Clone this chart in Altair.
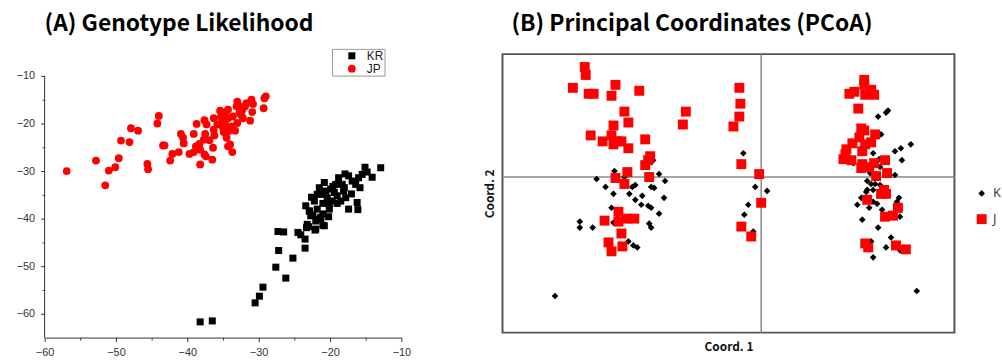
import altair as alt
import pandas as pd

# ---------------- (A) Genotype likelihood ----------------
kr_x = [-38.2, -36.5, -30.5, -29.9, -29.4, -27.6, -27.2, -27.3, -26.5, -26.2, -25.2, -24.5,
        -24.1, -23.5, -23.5, -23.3, -23.2, -22.1, -21.5, -21.0, -21.3, -22.4, -22.9, -16.1,
        -15.1, -12.9, -14.1, -15.5, -16.0, -17.4, -16.9, -16.4, -16.2, -17.4, -18.3, -18.1,
        -18.8, -17.8, -18.5, -19.2, -19.4, -19.0, -19.7, -20.1, -20.4, -20.8, -21.5, -21.1,
        -21.8, -22.2, -23.4, -22.9, -22.7, -22.0, -21.3, -20.8, -22.0, -23.0, -20.1, -21.8,
        -19.9, -21.0, -20.6, -19.6, -18.0, -17.0, -15.8, -14.8, -17.9, -22.6, -21.0, -19.0,
        -20.2]
kr_y = [-61.7, -61.5, -57.7, -56.3, -54.4, -50.2, -46.7, -42.7, -42.8, -52.5, -48.3, -42.9,
        -43.4, -44.3, -46.2, -41.9, -41.2, -42.4, -40.1, -41.4, -39.7, -39.2, -38.4, -38.1,
        -29.2, -29.3, -31.3, -30.7, -31.4, -31.0, -32.1, -32.8, -36.6, -38.0, -32.8, -34.2,
        -31.4, -35.6, -36.3, -32.8, -34.5, -35.2, -36.3, -37.0, -35.6, -32.4, -33.5, -34.9,
        -34.9, -36.3, -37.3, -38.4, -39.4, -40.5, -40.1, -41.5, -42.2, -41.7, -38.0, -38.0,
        -33.8, -36.8, -34.2, -33.2, -33.5, -34.8, -33.5, -30.2, -30.6, -35.5, -39.0, -36.8,
        -39.6]
jp_x = [-56.9, -52.8, -51.5, -51.0, -50.1, -49.6, -49.3, -48.1, -47.9, -46.9, -45.6, -45.5,
        -44.2, -44.0, -43.4, -43.2, -42.4, -42.1, -41.2, -40.9, -40.6, -40.5, -39.7, -39.1,
        -39.1, -38.7, -38.8, -38.3, -38.2, -37.7, -37.6, -37.4, -37.6, -37.3, -37.5, -36.9,
        -36.5, -36.3, -36.3, -36.2, -35.2, -35.0, -35.0, -34.9, -34.7, -34.3, -34.3, -34.2,
        -34.3, -34.0, -33.7, -33.6, -33.3, -33.1, -33.0, -32.7, -32.6, -32.3, -32.2, -31.9,
        -31.0, -30.8, -30.9, -31.2, -29.3, -29.2, -29.0, -34.6, -35.4, -35.8, -34.5, -38.2,
        -36.4, -33.0, -31.7, -32.4, -33.8, -35.3]
jp_y = [-30.0, -27.8, -33.0, -29.9, -29.2, -27.3, -23.6, -23.9, -21.0, -21.5, -28.5, -29.6,
        -20.0, -18.4, -24.6, -24.6, -27.8, -26.4, -26.0, -22.2, -23.0, -24.2, -26.4, -26.0,
        -22.2, -20.1, -24.8, -24.3, -28.6, -23.4, -26.5, -26.9, -19.3, -20.2, -22.2, -23.5,
        -27.6, -21.3, -18.9, -22.5, -18.2, -19.5, -20.9, -21.8, -20.2, -18.9, -17.1, -21.6,
        -24.8, -24.4, -26.0, -18.5, -21.5, -16.4, -19.9, -17.8, -16.4, -17.1, -18.9, -16.4,
        -15.0, -15.9, -17.6, -19.4, -16.8, -14.7, -14.3, -17.6, -17.3, -20.2, -23.0, -25.5,
        -25.1, -15.4, -15.7, -18.3, -20.6, -18.7]
left_major = [-60, -50, -40, -30, -20, -10]
left_minor_x = [-55, -45, -35, -25, -15]
left_minor_y = [-55, -45, -35, -25, -15]
left_x_range = [-60, -10]
left_y_range = [-65, -10]

# ---------------- (B) PCoA ----------------
k_x = [-0.018, -0.109, -0.148, -0.138, -0.166, -0.103, -0.097, -0.157, -0.130, -0.127, -0.111,
       -0.108, -0.149, -0.133, -0.120, -0.098, -0.127, -0.121, -0.114, -0.111, -0.103, -0.151,
       -0.183, -0.183, -0.170, -0.149, -0.145, -0.113, -0.111, -0.134, -0.129, -0.125, -0.208,
       -0.006, 0.006, -0.013, -0.017, -0.008,
       0.128, 0.126, 0.118, 0.121, 0.151, 0.141, 0.135, 0.113, 0.142, 0.119, 0.093, 0.120,
       0.110, 0.135, 0.107, 0.111, 0.115, 0.120, 0.107, 0.106, 0.113, 0.139, 0.101,
       0.097, 0.113, 0.117, 0.109, 0.122, 0.137, 0.140, 0.140, 0.127, 0.102, 0.118, 0.131,
       0.111, 0.126, 0.140, 0.113, 0.157]
k_y = [0.024, 0.017, 0.006, 0.000, -0.002, 0.003, -0.004, -0.010, -0.010, -0.008, -0.010,
       -0.011, -0.017, -0.017, -0.019, -0.021, -0.023, -0.028, -0.029, -0.031, -0.037, -0.031,
       -0.045, -0.051, -0.051, -0.046, -0.042, -0.047, -0.051, -0.065, -0.069, -0.071, -0.120,
       -0.010, -0.014, -0.028, -0.038, -0.055,
       0.067, 0.065, 0.061, 0.043, 0.033, 0.029, 0.026, 0.024, 0.017, 0.018, 0.014, 0.010,
       0.004, 0.002, -0.004, -0.007, -0.007, -0.008, -0.013, -0.015, -0.013, -0.021, -0.021,
       -0.028, -0.025, -0.027, -0.031, -0.033, -0.025, -0.033, -0.040, -0.040, -0.043, -0.051,
       -0.061, -0.065, -0.071, -0.074, -0.081, -0.115]
j_x = [-0.178, -0.177, -0.190, -0.174, -0.169, -0.147, -0.151, -0.123, -0.138, -0.076, -0.079,
       -0.149, -0.134, -0.172, -0.151, -0.160, -0.149, -0.145, -0.141, -0.134, -0.117, -0.112,
       -0.114, -0.117, -0.135, -0.147, -0.138, -0.113, -0.022, -0.021, -0.022, -0.028, -0.020,
       -0.002, 0.000, -0.144, -0.158, -0.144, -0.136, -0.128, -0.141, -0.154, -0.140, -0.151,
       -0.020, -0.010,
       0.104, 0.104, 0.111, 0.105, 0.114, 0.094, 0.089, 0.098, 0.101, 0.104, 0.115, 0.099,
       0.111, 0.092, 0.105, 0.086, 0.102, 0.085, 0.083, 0.091, 0.102, 0.114, 0.125, 0.101,
       0.109, 0.116, 0.127, 0.124, 0.121, 0.126, 0.107, 0.138, 0.125, 0.133, 0.105, 0.108,
       0.136, 0.146]
j_y = [0.111, 0.103, 0.090, 0.084, 0.084, 0.093, 0.082, 0.087, 0.066, 0.066, 0.053,
       0.052, 0.055, 0.042, 0.042, 0.036, 0.033, 0.036, 0.036, 0.029, 0.038, 0.021,
       0.017, 0.012, 0.005, -0.001, -0.007, 0.000, 0.090, 0.074, 0.061, 0.051, 0.013,
       0.003, -0.026, -0.035, -0.044, -0.045, -0.042, -0.042, -0.057, -0.066, -0.070, -0.075,
       -0.050, -0.060,
       0.098, 0.093, 0.088, 0.083, 0.083, 0.086, 0.084, 0.069, 0.049, 0.047, 0.043, 0.040,
       0.035, 0.034, 0.033, 0.028, 0.026, 0.023, 0.018, 0.017, 0.013, 0.014, 0.017, 0.009,
       0.010, 0.001, 0.004, -0.013, -0.017, -0.017, -0.023, -0.031, -0.040, -0.039, -0.067,
       -0.071, -0.069, -0.073]

assert len(kr_x) == len(kr_y) and len(jp_x) == len(jp_y)
assert len(k_x) == len(k_y) and len(j_x) == len(j_y)

left_df = pd.DataFrame({"x": kr_x + jp_x, "y": kr_y + jp_y,
                        "pop": ["KR"] * len(kr_x) + ["JP"] * len(jp_x)})
right_df = pd.DataFrame({"c1": k_x + j_x, "c2": k_y + j_y,
                         "grp": ["K"] * len(k_x) + ["J"] * len(j_x)})
zero_df = pd.DataFrame({"v": [0.0]})
yaxis_df = pd.DataFrame({"x0": [left_x_range[0]], "y0": [left_y_range[0]], "y1": [left_y_range[1]]})

TFONT = "Noto Sans CJK KR"
AFONT = "Liberation Sans"

lx_scale = alt.Scale(domain=[-60, -10], nice=False, zero=False)
# the plot box reaches a little above -10 so that the legend can sit above the axis end
ly_scale = alt.Scale(domain=[-65, -5.42], nice=False, zero=False)


def major_axis(orient, pad, show_domain):
    return alt.Axis(orient=orient, values=left_major, title=None, grid=False, tickSize=4,
                    tickColor="#333", domain=show_domain, domainColor="#333", domainWidth=1,
                    tickWidth=1, labelFont=AFONT, labelFontSize=11, labelColor="#333",
                    labelPadding=pad, labelFlush=False, format="d")


def minor_axis(orient, vals):
    return alt.Axis(orient=orient, values=vals, title=None, grid=False, tickSize=2.5,
                    tickColor="#333", tickWidth=1, labels=False, domain=False)


leg_left = alt.Legend(title=None, orient="none", legendX=290, legendY=-5.3, direction="vertical",
                      strokeColor="#999", fillColor="white", padding=1, symbolOffset=13,
                      symbolSize=20, symbolStrokeWidth=0, labelFont=AFONT, labelFontSize=12,
                      labelColor="#222", labelOffset=9, rowPadding=1)

left_pts = alt.Chart(left_df).mark_point(filled=True, opacity=1).encode(
    x=alt.X("x:Q", scale=lx_scale, axis=major_axis("bottom", 5, True)),
    y=alt.Y("y:Q", scale=ly_scale, axis=major_axis("left", 6, False)),
    color=alt.Color("pop:N", scale=alt.Scale(domain=["KR", "JP"], range=["#000000", "#ff0000"]),
                    legend=leg_left),
    shape=alt.Shape("pop:N", scale=alt.Scale(domain=["KR", "JP"], range=["square", "circle"]),
                    legend=leg_left),
    size=alt.Size("pop:N", scale=alt.Scale(domain=["KR", "JP"], range=[50, 62]), legend=None),
)
left_minor = alt.Chart(left_df).mark_point(opacity=0).encode(
    x=alt.X("x:Q", scale=lx_scale, axis=minor_axis("bottom", left_minor_x)),
    y=alt.Y("y:Q", scale=ly_scale, axis=minor_axis("left", left_minor_y)),
)
left_yline = alt.Chart(yaxis_df).mark_rule(color="#333", strokeWidth=1).encode(
    x=alt.X("x0:Q", scale=lx_scale, axis=minor_axis("bottom", left_minor_x)),
    y=alt.Y("y0:Q", scale=ly_scale, axis=minor_axis("left", left_minor_y)),
    y2="y1:Q",
)
left = alt.layer(left_pts, alt.layer(left_minor, left_yline)).resolve_axis(
    x="independent", y="independent").properties(
    width=360, height=286,
    title=alt.TitleParams("(A) Genotype Likelihood", anchor="start", frame="group", font=TFONT,
                          fontSize=23, fontWeight="bold", color="#000000", baseline="alphabetic",
                          offset=0, dy=5),
)

rx_scale = alt.Scale(domain=[-0.261, 0.195], nice=False, zero=False)
ry_scale = alt.Scale(domain=[-0.157, 0.124], nice=False, zero=False)
rx_axis = alt.Axis(title="Coord. 1", labels=False, ticks=False, domain=False, grid=False,
                   titleFont=TFONT, titleFontSize=12, titleFontWeight="bold", titleColor="#111",
                   titlePadding=9)
ry_axis = alt.Axis(title="Coord. 2", labels=False, ticks=False, domain=False, grid=False,
                   titleFont=TFONT, titleFontSize=12, titleFontWeight="bold", titleColor="#111",
                   titlePadding=6)

leg_right = alt.Legend(title=None, orient="none", legendX=477, legendY=134, padding=0,
                       symbolSize=55, symbolStrokeWidth=0, labelFont="Open Sans",
                       labelFontSize=13, labelColor="#333", labelOffset=5, rowPadding=12)

vline = alt.Chart(zero_df).mark_rule(color="#888888", strokeWidth=1.5).encode(
    x=alt.X("v:Q", scale=rx_scale, axis=rx_axis))
hline = alt.Chart(zero_df).mark_rule(color="#888888", strokeWidth=1.5).encode(
    y=alt.Y("v:Q", scale=ry_scale, axis=ry_axis))
right_pts = alt.Chart(right_df).mark_point(filled=True, opacity=1).encode(
    x=alt.X("c1:Q", scale=rx_scale, axis=rx_axis),
    y=alt.Y("c2:Q", scale=ry_scale, axis=ry_axis),
    color=alt.Color("grp:N", scale=alt.Scale(domain=["K", "J"], range=["#000000", "#ff0000"]),
                    legend=leg_right),
    shape=alt.Shape("grp:N", scale=alt.Scale(domain=["K", "J"], range=["diamond", "square"]),
                    legend=leg_right),
    size=alt.Size("grp:N", scale=alt.Scale(domain=["K", "J"], range=[45, 100]), legend=None),
)
right = alt.layer(vline, hline, right_pts).properties(
    width=456, height=281,
    view=alt.ViewBackground(stroke="#555555", strokeWidth=2),
    title=alt.TitleParams("(B) Principal Coordinates (PCoA)", anchor="start", frame="group", dx=9,
                          font=TFONT, fontSize=23, fontWeight="bold", color="#000000",
                          baseline="alphabetic", offset=0),
)

chart = alt.hconcat(left, right, spacing=72).resolve_scale(
    color="independent", shape="independent", size="independent"
).resolve_legend(color="independent", shape="independent").properties(
    padding={"left": 16, "top": 10, "right": 0, "bottom": 0},
    background="white",
).configure_view(strokeWidth=0)

chart.save("out.html", embed_options={"renderer": "svg", "actions": False})
